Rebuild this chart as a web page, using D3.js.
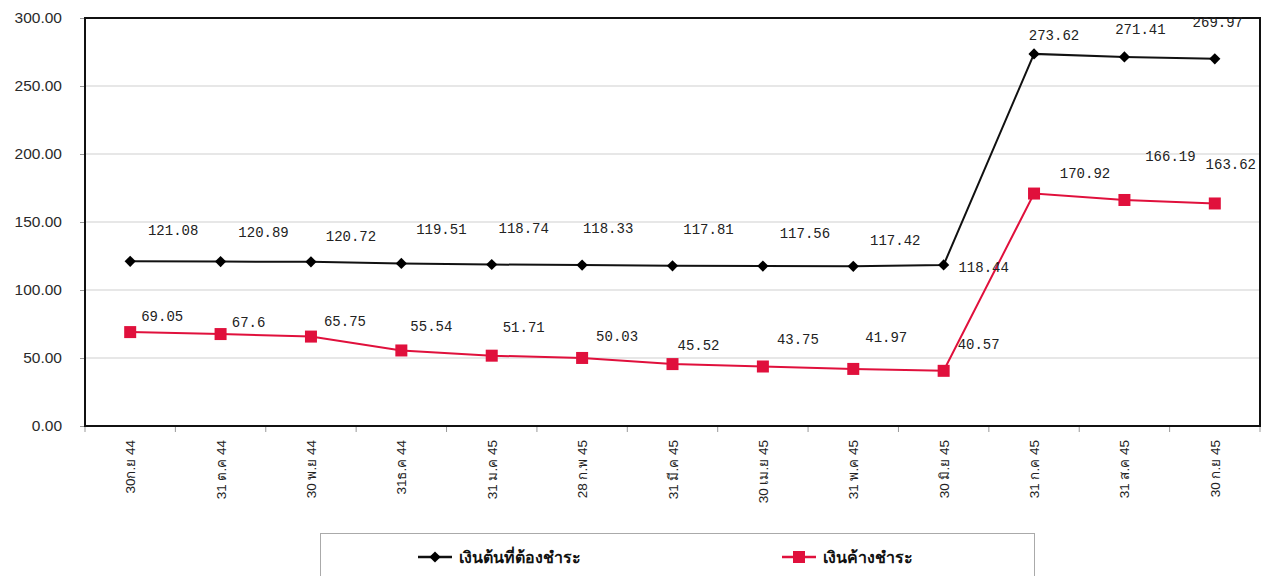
<!DOCTYPE html>
<html><head><meta charset="utf-8">
<script src="https://cdn.jsdelivr.net/npm/d3@7"></script>
<style>
html,body{margin:0;padding:0;background:#fff;}
svg{display:block;}
</style></head>
<body>
<svg id="c" width="1267" height="576"></svg>
<script>
const categories = ["30ก.ย 44","31 ต.ค 44","30 พ.ย 44","31ธ.ค 44","31 ม.ค 45","28 ก.พ 45","31 มี.ค 45","30 เม.ย 45","31 พ.ค 45","30 มิ.ย 45","31 ก.ค 45","31 ส.ค 45","30 ก.ย 45"];
const principalDue = [121.08,120.89,120.72,119.51,118.74,118.33,117.81,117.56,117.42,118.44,273.62,271.41,269.97];
const outstanding = [69.05,67.6,65.75,55.54,51.71,50.03,45.52,43.75,41.97,40.57,170.92,166.19,163.62];
const seriesNames = ["เงินต้นที่ต้องชำระ","เงินค้างชำระ"];
const yTicks = [0,50,100,150,200,250,300];

// layout: label placement (pixel offsets of label centre from its marker)
const blackLabelDx = [43,43,40,40,32,26,36,42,42,40,20,16,3];
const blackLabelDy = [-31,-30,-26,-34,-37,-37,-37,-33,-26,2,-19,-28,-37];
const redLabelDx = [32,28,34,30,32,35,26,35,33,35,51,46,16];
const redLabelDy = [-16,-12,-16,-24,-29,-22,-19,-28,-32,-27,-21,-44,-39];

const svg = d3.select("#c");
const W = 1267, H = 576;
const m = {top:18, right:7, bottom:150, left:85};
const iw = W - m.left - m.right, ih = H - m.top - m.bottom;
const thai = "'Liberation Sans','DejaVu Sans','Noto Sans',sans-serif";
const RED = "#e0103c";

const x = d3.scaleBand().domain(categories).range([m.left, m.left+iw]).padding(0);
const cx = d => x(d) + x.bandwidth()/2;
const y = d3.scaleLinear().domain([0,300]).range([m.top+ih, m.top]);

// gridlines
svg.append("g").selectAll("line").data(yTicks.slice(1,-1)).join("line")
  .attr("x1", m.left).attr("x2", m.left+iw)
  .attr("y1", d=>y(d)).attr("y2", d=>y(d))
  .attr("stroke","#cfcfcf").attr("stroke-width",1);

// y axis
const ya = svg.append("g").attr("transform",`translate(${m.left},0)`)
  .call(d3.axisLeft(y).tickValues(yTicks).tickFormat(d3.format(".2f")).tickSize(5).tickPadding(18));
ya.select(".domain").remove();
ya.selectAll("line").attr("stroke","#999");
ya.selectAll("text").attr("font-family","'Liberation Sans',Arial,sans-serif").attr("font-size",15.5).attr("fill","#2a2a2a");

// x axis ticks at boundaries
const bounds = d3.range(categories.length+1).map(i => m.left + i*x.bandwidth());
svg.append("g").selectAll("line").data(bounds).join("line")
  .attr("x1",d=>d).attr("x2",d=>d).attr("y1",m.top+ih).attr("y2",m.top+ih+6)
  .attr("stroke","#999");
svg.append("g").selectAll("text").data(categories).join("text")
  .attr("transform", d=>`translate(${cx(d)+5},${m.top+ih+14}) rotate(-90)`)
  .attr("text-anchor","end")
  .attr("font-family",thai).attr("font-size",13.5).attr("fill","#222")
  .text(d=>d);

// plot border
svg.append("rect").attr("x",m.left).attr("y",m.top).attr("width",iw).attr("height",ih)
  .attr("fill","none").attr("stroke","#111").attr("stroke-width",2);

const line = d3.line().x((d,i)=>cx(categories[i])).y(d=>y(d));

// black series
svg.append("path").datum(principalDue).attr("d",line).attr("fill","none").attr("stroke","#111").attr("stroke-width",2);
svg.append("g").selectAll("path").data(principalDue).join("path")
  .attr("d", d3.symbol(d3.symbolDiamond2, 80))
  .attr("transform",(d,i)=>`translate(${cx(categories[i])},${y(d)})`)
  .attr("fill","#000");

// red series
svg.append("path").datum(outstanding).attr("d",line).attr("fill","none").attr("stroke",RED).attr("stroke-width",2);
svg.append("g").selectAll("rect").data(outstanding).join("rect")
  .attr("x",(d,i)=>cx(categories[i])-6).attr("y",d=>y(d)-6).attr("width",12).attr("height",12)
  .attr("fill",RED);

// labels
const lblFont = "'Liberation Mono','DejaVu Sans Mono',monospace";
svg.append("g").selectAll("text").data(principalDue).join("text")
  .attr("x",(d,i)=> cx(categories[i]) + blackLabelDx[i])
  .attr("y",(d,i)=> y(d) + blackLabelDy[i] + 5)
  .attr("text-anchor","middle")
  .attr("font-family",lblFont).attr("font-size",14).attr("fill","#222")
  .text(d=>String(d));
svg.append("g").selectAll("text").data(outstanding).join("text")
  .attr("x",(d,i)=> cx(categories[i]) + redLabelDx[i])
  .attr("y",(d,i)=> y(d) + redLabelDy[i] + 5)
  .attr("text-anchor","middle")
  .attr("font-family",lblFont).attr("font-size",14).attr("fill","#222")
  .text(d=>String(d));

// legend
const lg = svg.append("g");
lg.append("rect").attr("x",320.5).attr("y",533.5).attr("width",714).attr("height",60)
  .attr("fill","#fff").attr("stroke","#aaa");
const items = [{name:seriesNames[0], x:418, color:"#111", sym:"d"},{name:seriesNames[1], x:782, color:RED, sym:"s"}];
items.forEach(it=>{
  const g = lg.append("g");
  g.append("line").attr("x1",it.x).attr("x2",it.x+34).attr("y1",557).attr("y2",557).attr("stroke",it.color).attr("stroke-width",2.5);
  if(it.sym==="d"){
    g.append("path").attr("d",d3.symbol(d3.symbolDiamond2,80)).attr("transform",`translate(${it.x+17},557)`).attr("fill","#000");
  } else {
    g.append("rect").attr("x",it.x+11).attr("y",551).attr("width",12).attr("height",12).attr("fill",it.color);
  }
  g.append("text").attr("x",it.x+41).attr("y",563).attr("font-family",thai).attr("font-weight","bold")
    .attr("font-size",16).attr("fill","#111").text(it.name);
});
</script>
</body></html>
